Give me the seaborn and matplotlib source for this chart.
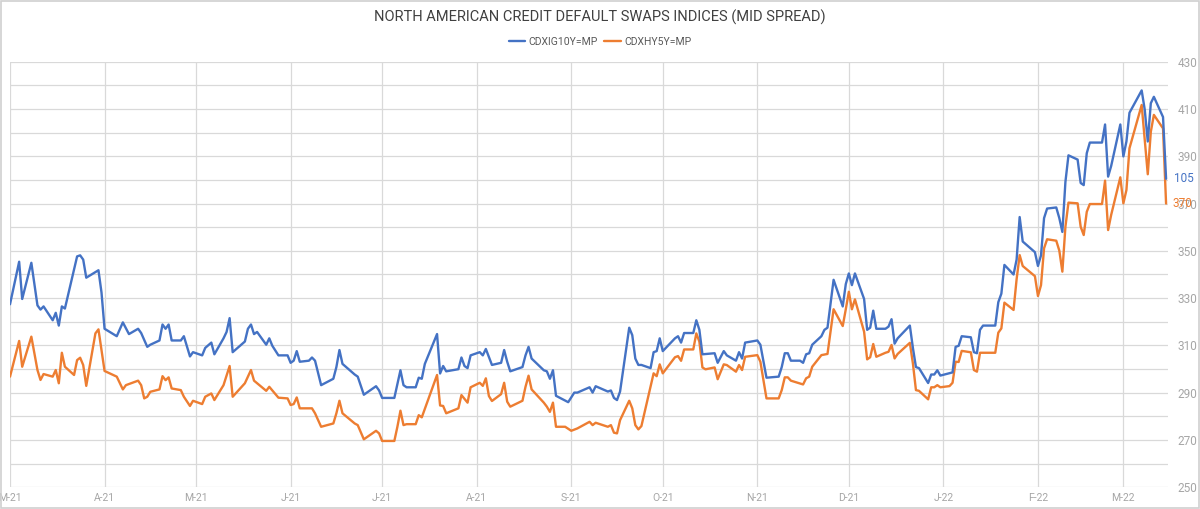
import pandas as pd
import matplotlib
matplotlib.use("Agg")
import matplotlib.pyplot as plt
import matplotlib.dates as mdates
from matplotlib.ticker import FuncFormatter
from matplotlib.lines import Line2D
from matplotlib.patches import Rectangle
import seaborn as sns

# ── Datos ──
ig_dates = [
    "2021-03-01", "2021-03-04", "2021-03-05", "2021-03-08", "2021-03-10", "2021-03-11", "2021-03-12",
    "2021-03-15", "2021-03-16", "2021-03-17", "2021-03-18", "2021-03-19", "2021-03-23", "2021-03-24",
    "2021-03-25", "2021-03-26", "2021-03-30", "2021-03-31", "2021-04-01", "2021-04-05", "2021-04-07",
    "2021-04-09", "2021-04-12", "2021-04-13", "2021-04-15", "2021-04-16", "2021-04-19", "2021-04-20",
    "2021-04-21", "2021-04-22", "2021-04-23", "2021-04-26", "2021-04-27", "2021-04-29", "2021-04-30",
    "2021-05-03", "2021-05-04", "2021-05-06", "2021-05-07", "2021-05-10", "2021-05-11", "2021-05-12",
    "2021-05-13", "2021-05-17", "2021-05-18", "2021-05-19", "2021-05-20", "2021-05-21", "2021-05-24",
    "2021-05-25", "2021-05-26", "2021-05-28", "2021-05-31", "2021-06-01", "2021-06-02", "2021-06-03",
    "2021-06-04", "2021-06-07", "2021-06-08", "2021-06-09", "2021-06-11", "2021-06-15", "2021-06-16",
    "2021-06-17", "2021-06-18", "2021-06-22", "2021-06-23", "2021-06-25", "2021-06-29", "2021-06-30",
    "2021-07-01", "2021-07-05", "2021-07-06", "2021-07-07", "2021-07-08", "2021-07-09", "2021-07-12",
    "2021-07-13", "2021-07-14", "2021-07-15", "2021-07-19", "2021-07-20", "2021-07-21", "2021-07-22",
    "2021-07-26", "2021-07-27", "2021-07-28", "2021-07-29", "2021-07-30", "2021-08-02", "2021-08-03",
    "2021-08-04", "2021-08-06", "2021-08-09", "2021-08-10", "2021-08-11", "2021-08-12", "2021-08-16",
    "2021-08-17", "2021-08-18", "2021-08-19", "2021-08-23", "2021-08-24", "2021-08-25", "2021-08-26",
    "2021-08-27", "2021-08-31", "2021-09-02", "2021-09-03", "2021-09-07", "2021-09-08", "2021-09-09",
    "2021-09-13", "2021-09-14", "2021-09-15", "2021-09-16", "2021-09-17", "2021-09-20", "2021-09-21",
    "2021-09-22", "2021-09-23", "2021-09-24", "2021-09-27", "2021-09-28", "2021-09-29", "2021-09-30",
    "2021-10-01", "2021-10-05", "2021-10-06", "2021-10-07", "2021-10-08", "2021-10-11", "2021-10-12",
    "2021-10-13", "2021-10-14", "2021-10-18", "2021-10-19", "2021-10-21", "2021-10-22", "2021-10-25",
    "2021-10-26", "2021-10-27", "2021-10-28", "2021-11-01", "2021-11-02", "2021-11-04", "2021-11-08",
    "2021-11-09", "2021-11-10", "2021-11-11", "2021-11-12", "2021-11-15", "2021-11-16", "2021-11-17",
    "2021-11-18", "2021-11-19", "2021-11-22", "2021-11-23", "2021-11-24", "2021-11-26", "2021-11-29",
    "2021-11-30", "2021-12-01", "2021-12-02", "2021-12-03", "2021-12-06", "2021-12-07", "2021-12-08",
    "2021-12-09", "2021-12-10", "2021-12-13", "2021-12-14", "2021-12-15", "2021-12-16", "2021-12-17",
    "2021-12-21", "2021-12-22", "2021-12-23", "2021-12-24", "2021-12-27", "2021-12-28", "2021-12-29",
    "2021-12-30", "2021-12-31", "2022-01-04", "2022-01-05", "2022-01-06", "2022-01-07", "2022-01-10",
    "2022-01-11", "2022-01-12", "2022-01-13", "2022-01-14", "2022-01-18", "2022-01-19", "2022-01-20",
    "2022-01-21", "2022-01-24", "2022-01-25", "2022-01-26", "2022-01-27", "2022-01-31", "2022-02-01",
    "2022-02-02", "2022-02-03", "2022-02-04", "2022-02-07", "2022-02-08", "2022-02-09", "2022-02-10",
    "2022-02-11", "2022-02-14", "2022-02-15", "2022-02-16", "2022-02-17", "2022-02-18", "2022-02-22",
    "2022-02-23", "2022-02-24", "2022-02-25", "2022-02-28", "2022-03-01", "2022-03-02", "2022-03-03",
    "2022-03-07", "2022-03-08", "2022-03-09", "2022-03-10", "2022-03-11", "2022-03-14", "2022-03-15",
]
ig_vals = [
    93.2, 97.2, 93.7, 97.1, 93.1, 92.7, 93.0,
    91.7, 92.4, 91.2, 93.0, 92.8, 97.7, 97.8,
    97.4, 95.7, 96.4, 94.3, 90.9, 90.2, 91.5,
    90.4, 90.9, 90.5, 89.2, 89.4, 89.8, 91.3,
    90.9, 91.3, 89.8, 89.8, 90.2, 88.3, 88.7,
    88.4, 89.1, 89.6, 88.5, 90.0, 90.6, 91.9,
    88.7, 89.7, 90.9, 91.3, 90.4, 90.6, 89.4,
    90.0, 89.3, 88.4, 88.4, 87.7, 87.9, 88.8,
    87.8, 87.9, 88.2, 87.9, 85.6, 86.2, 87.3,
    88.9, 87.6, 86.6, 86.4, 84.7, 85.5, 85.1,
    84.4, 84.4, 85.7, 87.0, 85.6, 85.4, 85.4,
    86.3, 86.2, 87.6, 90.4, 86.7, 87.4, 86.9,
    87.1, 88.2, 87.4, 87.2, 88.4, 88.7, 88.4,
    89.0, 87.5, 87.7, 88.9, 87.8, 86.9, 87.3,
    88.4, 89.2, 88.1, 87.0, 86.9, 86.2, 87.0,
    84.6, 84.0, 84.9, 84.9, 85.4, 84.9, 85.5,
    85.0, 85.1, 84.4, 84.2, 85.0, 91.0, 90.3,
    88.1, 87.5, 87.5, 87.2, 88.7, 88.8, 90.0,
    88.8, 90.0, 90.2, 89.6, 90.5, 90.5, 91.7,
    90.8, 88.5, 88.6, 87.7, 88.8, 88.4, 87.9,
    88.7, 88.1, 89.6, 89.8, 89.4, 86.3, 86.4,
    87.3, 88.6, 88.6, 87.9, 87.9, 87.7, 88.5,
    88.6, 89.4, 90.2, 90.8, 91.0, 95.5, 93.0,
    95.1, 96.1, 95.0, 96.1, 93.7, 90.8, 91.0,
    92.6, 90.9, 90.9, 91.1, 91.8, 89.5, 90.0,
    91.2, 89.1, 87.3, 87.2, 85.8, 86.6, 86.6,
    87.0, 86.5, 86.8, 89.2, 89.3, 90.2, 90.1,
    88.7, 88.6, 90.8, 91.2, 91.2, 93.4, 94.2,
    96.9, 96.0, 97.4, 101.4, 99.1, 98.1, 96.8,
    97.8, 101.3, 102.2, 102.3, 101.3, 100.0, 104.7,
    107.2, 106.8, 104.6, 104.4, 107.4, 108.4, 108.4,
    110.1, 105.2, 106.2, 110.1, 107.1, 108.5, 111.2,
    113.3, 111.5, 108.5, 112.1, 112.7, 110.8, 105.0,
]

hy_dates = [
    "2021-03-01", "2021-03-04", "2021-03-05", "2021-03-08", "2021-03-10", "2021-03-11", "2021-03-12",
    "2021-03-15", "2021-03-16", "2021-03-17", "2021-03-18", "2021-03-19", "2021-03-22", "2021-03-23",
    "2021-03-24", "2021-03-25", "2021-03-26", "2021-03-29", "2021-03-30", "2021-04-01", "2021-04-05",
    "2021-04-07", "2021-04-08", "2021-04-12", "2021-04-13", "2021-04-14", "2021-04-15", "2021-04-16",
    "2021-04-19", "2021-04-20", "2021-04-21", "2021-04-22", "2021-04-23", "2021-04-26", "2021-04-27",
    "2021-04-29", "2021-04-30", "2021-05-03", "2021-05-04", "2021-05-06", "2021-05-07", "2021-05-10",
    "2021-05-12", "2021-05-13", "2021-05-17", "2021-05-19", "2021-05-20", "2021-05-24", "2021-05-25",
    "2021-05-28", "2021-05-31", "2021-06-01", "2021-06-02", "2021-06-03", "2021-06-04", "2021-06-08",
    "2021-06-09", "2021-06-11", "2021-06-15", "2021-06-16", "2021-06-17", "2021-06-18", "2021-06-22",
    "2021-06-23", "2021-06-25", "2021-06-29", "2021-06-30", "2021-07-01", "2021-07-05", "2021-07-06",
    "2021-07-07", "2021-07-08", "2021-07-09", "2021-07-12", "2021-07-13", "2021-07-14", "2021-07-19",
    "2021-07-20", "2021-07-21", "2021-07-22", "2021-07-26", "2021-07-27", "2021-07-29", "2021-07-30",
    "2021-08-02", "2021-08-03", "2021-08-04", "2021-08-05", "2021-08-06", "2021-08-09", "2021-08-10",
    "2021-08-11", "2021-08-12", "2021-08-16", "2021-08-17", "2021-08-18", "2021-08-19", "2021-08-23",
    "2021-08-24", "2021-08-25", "2021-08-26", "2021-08-27", "2021-08-30", "2021-09-01", "2021-09-03",
    "2021-09-07", "2021-09-08", "2021-09-09", "2021-09-13", "2021-09-14", "2021-09-15", "2021-09-16",
    "2021-09-17", "2021-09-20", "2021-09-21", "2021-09-22", "2021-09-23", "2021-09-24", "2021-09-28",
    "2021-09-29", "2021-09-30", "2021-10-01", "2021-10-05", "2021-10-06", "2021-10-07", "2021-10-08",
    "2021-10-11", "2021-10-12", "2021-10-13", "2021-10-14", "2021-10-15", "2021-10-18", "2021-10-19",
    "2021-10-21", "2021-10-22", "2021-10-25", "2021-10-26", "2021-10-27", "2021-10-28", "2021-11-01",
    "2021-11-02", "2021-11-04", "2021-11-08", "2021-11-09", "2021-11-10", "2021-11-11", "2021-11-12",
    "2021-11-16", "2021-11-17", "2021-11-18", "2021-11-19", "2021-11-22", "2021-11-24", "2021-11-26",
    "2021-11-29", "2021-11-30", "2021-12-01", "2021-12-02", "2021-12-03", "2021-12-06", "2021-12-07",
    "2021-12-08", "2021-12-09", "2021-12-10", "2021-12-13", "2021-12-14", "2021-12-15", "2021-12-16",
    "2021-12-17", "2021-12-21", "2021-12-22", "2021-12-23", "2021-12-24", "2021-12-27", "2021-12-28",
    "2021-12-29", "2021-12-30", "2021-12-31", "2022-01-03", "2022-01-04", "2022-01-05", "2022-01-06",
    "2022-01-07", "2022-01-10", "2022-01-11", "2022-01-12", "2022-01-13", "2022-01-14", "2022-01-18",
    "2022-01-19", "2022-01-20", "2022-01-21", "2022-01-24", "2022-01-25", "2022-01-26", "2022-01-27",
    "2022-01-31", "2022-02-01", "2022-02-02", "2022-02-03", "2022-02-04", "2022-02-07", "2022-02-08",
    "2022-02-09", "2022-02-10", "2022-02-11", "2022-02-14", "2022-02-15", "2022-02-16", "2022-02-17",
    "2022-02-18", "2022-02-22", "2022-02-23", "2022-02-24", "2022-02-25", "2022-02-28", "2022-03-01",
    "2022-03-02", "2022-03-03", "2022-03-07", "2022-03-09", "2022-03-10", "2022-03-11", "2022-03-14",
    "2022-03-15",
]
hy_vals = [
    296.8, 311.9, 301.0, 313.7, 299.6, 295.4, 297.9,
    296.8, 299.6, 294.0, 306.9, 301.0, 297.5, 303.8,
    304.8, 301.7, 292.9, 315.1, 316.8, 299.2, 296.8,
    291.4, 293.2, 295.1, 293.2, 287.6, 288.3, 290.4,
    291.4, 297.0, 295.3, 296.5, 291.8, 291.1, 288.3,
    284.4, 286.6, 285.2, 288.3, 289.7, 286.9, 293.2,
    301.3, 288.3, 294.0, 299.6, 295.1, 290.8, 292.5,
    287.9, 287.6, 284.8, 285.2, 288.0, 283.4, 283.4,
    281.3, 275.6, 277.0, 281.3, 286.6, 281.3, 277.0,
    276.3, 270.3, 273.9, 272.8, 269.6, 269.6, 275.6,
    282.4, 276.3, 276.7, 276.7, 280.5, 279.6, 297.5,
    284.6, 284.4, 281.3, 283.4, 289.0, 285.8, 292.3,
    294.2, 292.9, 296.1, 288.6, 286.5, 289.4, 294.2,
    286.2, 284.1, 286.6, 292.5, 297.2, 291.4, 285.8,
    284.1, 281.9, 285.8, 275.6, 275.6, 273.9, 274.9,
    277.7, 276.3, 277.3, 275.6, 276.3, 273.1, 272.8,
    278.4, 286.6, 283.4, 276.3, 274.5, 275.9, 298.2,
    297.0, 302.0, 298.2, 305.0, 305.5, 303.5, 308.3,
    308.3, 315.1, 311.6, 300.7, 299.9, 300.7, 295.7,
    302.0, 301.7, 298.9, 301.7, 299.6, 305.2, 305.9,
    303.1, 287.6, 287.6, 291.1, 296.5, 296.5, 295.1,
    293.5, 296.1, 296.8, 301.0, 305.9, 306.4, 325.3,
    318.2, 325.3, 332.7, 325.3, 329.5, 315.8, 304.1,
    305.0, 310.6, 305.2, 306.9, 307.3, 310.2, 304.5,
    306.4, 311.1, 302.4, 291.1, 290.8, 287.2, 292.3,
    292.3, 293.2, 292.3, 292.8, 294.2, 303.1, 303.0,
    307.7, 307.1, 299.6, 298.9, 306.9, 306.9, 306.9,
    315.4, 317.2, 328.1, 325.0, 338.0, 348.2, 343.6,
    339.3, 330.9, 335.5, 351.1, 354.9, 354.3, 350.1,
    341.2, 360.2, 370.4, 370.1, 360.2, 356.7, 366.5,
    369.8, 369.8, 379.7, 358.8, 365.2, 381.1, 370.1,
    375.7, 393.4, 411.7, 382.4, 400.4, 407.5, 401.8,
    370.0,
]

ig_label = "CDXIG10Y=MP"
hy_label = "CDXHY5Y=MP"
titulo = "NORTH AMERICAN CREDIT DEFAULT SWAPS INDICES (MID SPREAD)"

# ── Estilo ──
sns.set_style("white")
plt.rcParams['font.family'] = ['Roboto', 'DejaVu Sans']

AZUL = '#4472C4'
NARANJA = '#ED7D31'
GRID = '#D9D9D9'
GRIS = '#A6A6A6'

ig = pd.DataFrame({'fecha': pd.to_datetime(ig_dates), 'spread': ig_vals})
hy = pd.DataFrame({'fecha': pd.to_datetime(hy_dates), 'spread': hy_vals})

fig = plt.figure(figsize=(12, 5.09), dpi=100)
ax = fig.add_axes([10 / 1200, 1 - 487.3 / 509, 1157.6 / 1200, 425.6 / 509])
ax2 = ax.twinx()

sns.lineplot(data=hy, x='fecha', y='spread', ax=ax, color=NARANJA, lw=1.7)
sns.lineplot(data=ig, x='fecha', y='spread', ax=ax2, color=AZUL, lw=1.7)

# eje principal (HY) a la derecha
ax.set_ylim(250, 430)
ax.set_yticks(range(250, 431, 20))
ax.set_yticks(range(260, 430, 20), minor=True)
ax.yaxis.tick_right()
ax.grid(axis='y', which='both', color=GRID, lw=0.9)
ax.grid(axis='x', which='major', color=GRID, lw=0.9)
ax.set_axisbelow(True)
ax.tick_params(axis='both', which='both', length=0, colors=GRIS)
ax.tick_params(axis='y', pad=7, labelsize=8.5)
ax.tick_params(axis='x', pad=4, labelsize=7.5)

ax.set_xlim(pd.Timestamp('2021-03-01'), pd.Timestamp('2022-03-15 12:00'))
ax.xaxis.set_major_locator(mdates.MonthLocator())
ax.xaxis.set_major_formatter(FuncFormatter(
    lambda v, p: mdates.num2date(v).strftime('%b')[0] + '-' + mdates.num2date(v).strftime('%y')))

# eje secundario (IG) oculto
ax2.set_ylim(76, 116)
ax2.set_yticks([])
for a in (ax, ax2):
    a.set_xlabel(''); a.set_ylabel('')
    for s in a.spines.values():
        s.set_visible(False)

# etiquetas del último valor
ax2.annotate(f"{ig_vals[-1]:.0f}", xy=(ig['fecha'].iloc[-1], ig_vals[-1]), xytext=(6, 0),
             textcoords='offset points', color=AZUL, fontsize=8.5, va='center', annotation_clip=False)
ax.annotate(f"{hy_vals[-1]:.0f}", xy=(hy['fecha'].iloc[-1], hy_vals[-1]), xytext=(4.5, 0),
            textcoords='offset points', color=NARANJA, fontsize=8.5, va='center', annotation_clip=False)

# título y leyenda
fig.text(0.5, 1 - 17 / 509, titulo, ha='center', va='center', fontsize=10.5, color='#404040')
handles = [Line2D([], [], color=AZUL, lw=1.7), Line2D([], [], color=NARANJA, lw=1.7)]
fig.legend(handles, [ig_label, hy_label], loc='center', bbox_to_anchor=(0.5, 1 - 42 / 509),
           ncol=2, frameon=False, fontsize=7.5, labelcolor='#595959',
           handlelength=1.6, handletextpad=0.3, columnspacing=0.6)

fig.patches.append(Rectangle((0.0005, 0.001), 0.999, 0.998, transform=fig.transFigure,
                             fill=False, edgecolor='#D0D0D0', lw=1.2))

fig.savefig('out.png', dpi=100)
